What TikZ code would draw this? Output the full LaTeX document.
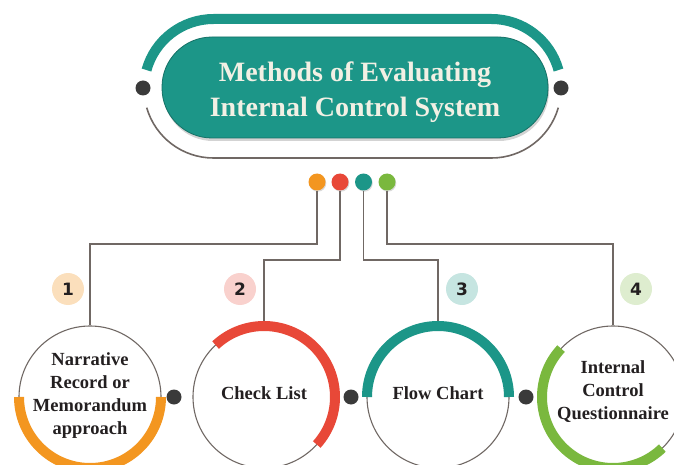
\documentclass[tikz,border=0pt]{standalone}
\usepackage{fontspec}
\setmainfont{Liberation Serif}
\newfontfamily\numfont{DejaVu Sans}
\usepackage{tikz}
\usetikzlibrary{calc}
\usetikzlibrary{shadows}

\definecolor{evalteal}{RGB}{28,150,136}
\definecolor{evalorange}{RGB}{243,150,32}
\definecolor{evalred}{RGB}{232,72,56}
\definecolor{evalgreen}{RGB}{122,184,62}
\definecolor{linegray}{RGB}{112,104,100}
\definecolor{dotgray}{RGB}{58,58,58}
\definecolor{inkdark}{RGB}{35,31,32}
\definecolor{titlecream}{RGB}{242,240,228}

\begin{document}
\begin{tikzpicture}[x=1pt, y=1pt,
    connector/.style={draw=linegray, line width=1.4pt},
    pin/.style={circle, inner sep=0, minimum size=17pt, drop shadow={opacity=0.3, shadow xshift=0.8pt, shadow yshift=-1.2pt}},
    method/.style={circle, draw=linegray, line width=1.1pt, fill=white, inner sep=0, minimum size=142pt},
    methodtext/.style={align=center, font=\bfseries\fontsize{18.5}{23}\selectfont, text=inkdark},
    badge/.style={circle, inner sep=0, minimum size=32pt, font=\numfont\bfseries\fontsize{17}{17}\selectfont, text=inkdark},
    joint/.style={circle, fill=dotgray, inner sep=0, minimum size=15pt},
    band/.style={line width=10pt}]

        \useasboundingbox (0,0) rectangle (674,464);

        \draw[evalteal, line width=10pt] ([shift={(164.6:69.5pt)}]213.5,375.5) arc[start angle=164.6, end angle=90, radius=69.5pt]
            -- (491.5,445) arc[start angle=90, end angle=15.4, radius=69.5pt];
        \draw[linegray, line width=1.6pt] ([shift={(196:69.5pt)}]213.5,375.5) arc[start angle=196, end angle=270, radius=69.5pt]
            -- (491.5,306) arc[start angle=270, end angle=344, radius=69.5pt];

        \node (title) [fill=evalteal, draw=evalteal!75!black, line width=0.8pt, rounded corners=50pt,
            minimum width=386pt, minimum height=101pt, inner sep=0,
            drop shadow={opacity=0.35, shadow xshift=1pt, shadow yshift=-3pt}] at (355,376.5) {};
        \node (titletext) [align=center, text=titlecream, font=\bfseries\fontsize{28}{35}\selectfont]
            at (355,372) {Methods of Evaluating\\Internal Control System};

        \node (lj) [joint] at (143,376) {};
        \node (rj) [joint] at (561,376) {};

        \node (p1) [pin, fill=evalorange] at (317,282) {};
        \node (p2) [pin, fill=evalred] at (340,282) {};
        \node (p3) [pin, fill=evalteal] at (363.5,282) {};
        \node (p4) [pin, fill=evalgreen] at (387,282) {};

        \coordinate (hi) at (0,220);
        \coordinate (lo) at (0,204);

        \node (m1) [method] at (90,67) {};
        \node (m2) [method] at (264,67) {};
        \node (m3) [method] at (438,67) {};
        \node (m4) [method] at (613,67) {};

        \draw[connector] (p1) -- (p1 |- hi) -| (m1.north);
        \draw[connector] (p2) -- (p2 |- lo) -| (m2.north);
        \draw[connector] (p3) -- (p3 |- lo) -| (m3.north);
        \draw[connector] (p4) -- (p4 |- hi) -| (m4.north);

        \draw[band, evalorange] ([shift={(180:71pt)}]m1.center) arc[start angle=180, end angle=360, radius=71pt];
        \draw[band, evalred] ([shift={(133:71pt)}]m2.center) arc[start angle=133, end angle=-42, radius=71pt];
        \draw[band, evalteal] ([shift={(180:71pt)}]m3.center) arc[start angle=180, end angle=0, radius=71pt];
        \draw[band, evalgreen] ([shift={(137:71pt)}]m4.center) arc[start angle=137, end angle=314, radius=71pt];

        \node (t1) [methodtext] at (90,68) {Narrative\\Record or\\Memorandum\\approach};
        \node (t2) [methodtext] at (264,71) {Check List};
        \node (t3) [methodtext] at (438,71) {Flow Chart};
        \node (t4) [methodtext] at (613,72) {Internal\\Control\\Questionnaire};

        \node (b1) [badge, fill=evalorange!30] at (68,175) {1};
        \node (b2) [badge, fill=evalred!25] at (240,175) {2};
        \node (b3) [badge, fill=evalteal!25] at (462,175) {3};
        \node (b4) [badge, fill=evalgreen!25] at (636,175) {4};

        \node (j1) [joint] at (174,67) {};
        \node (j2) [joint] at (351,67) {};
        \node (j3) [joint] at (526,67) {};
      \end{tikzpicture}
\end{document}
